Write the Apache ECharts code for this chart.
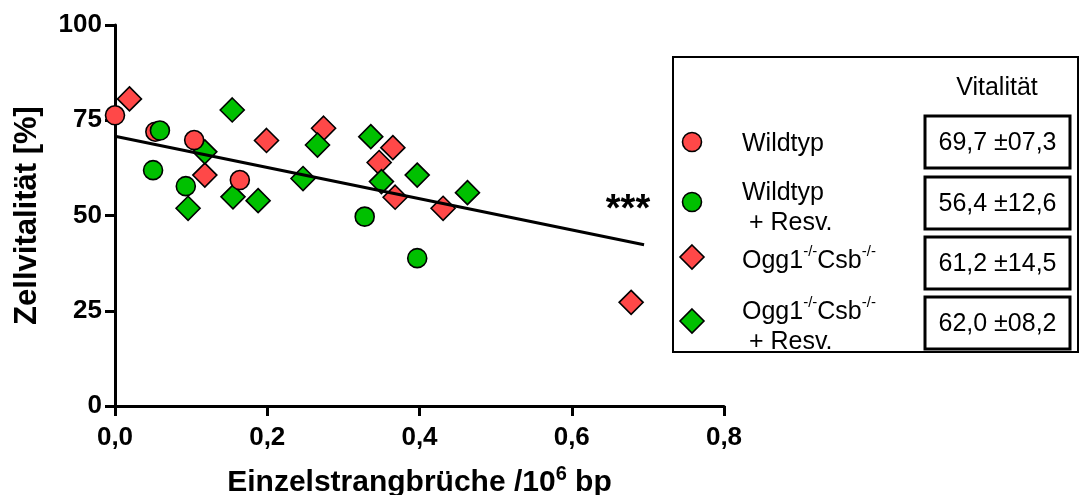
<!DOCTYPE html>
<html>
<head>
<meta charset="utf-8">
<script src="https://cdn.jsdelivr.net/npm/echarts@6/dist/echarts.min.js"></script>
<style>
  html, body { margin: 0; padding: 0; background: #ffffff; }
  #chart { width: 1083px; height: 495px; }
</style>
</head>
<body>
<div id="chart"></div>
<script>
// Einzelstrangbrüche (per 10^6 bp) vs. Zellvitalität (%) for each group
const wildtypX = [0.000, 0.053, 0.104, 0.164];
const wildtypY = [76.3, 72.0, 69.8, 59.3];

const wildtypResvX = [0.059, 0.050, 0.093, 0.328, 0.397];
const wildtypResvY = [72.3, 61.9, 57.7, 49.7, 38.8];

const oggCsbX = [0.019, 0.118, 0.199, 0.274, 0.347, 0.365, 0.368, 0.431, 0.678];
const oggCsbY = [80.6, 60.6, 69.7, 72.9, 63.9, 67.8, 54.8, 51.9, 27.2];

const oggCsbResvX = [0.154, 0.118, 0.155, 0.188, 0.096, 0.266, 0.336, 0.397, 0.247, 0.350, 0.463];
const oggCsbResvY = [77.7, 66.7, 54.9, 53.9, 51.9, 68.5, 70.7, 60.6, 59.7, 58.9, 56.0];

// linear regression over all groups
const trendX = [0.0, 0.695];
const trendY = [70.8, 42.3];

// Vitalität: mean ± SD per group
const vitalMean = ['69,7', '56,4', '61,2', '62,0'];
const vitalSd = ['07,3', '12,6', '14,5', '08,2'];

const xTicks = [0, 0.2, 0.4, 0.6, 0.8];
const yTicks = [0, 25, 50, 75, 100];

const RED = '#ff4848';
const GREEN = '#00c000';
const FONT = '"Liberation Sans", Arial, Helvetica, sans-serif';

const zip = (xs, ys) => xs.map((x, i) => [x, ys[i]]);

const chart = echarts.init(document.getElementById('chart'), null, { renderer: 'canvas' });

function scatter(name, xs, ys, symbol, color, size) {
  return {
    name, type: 'scatter', data: zip(xs, ys), symbol, symbolSize: size,
    itemStyle: { color, borderColor: '#000', borderWidth: 1.6, opacity: 1 },
    emphasis: { disabled: true }, z: 3
  };
}

// Legend panel with group markers and mean ± SD boxes
const legendItems = [
  { symbol: 'circle', color: RED, markerY: 142, text: '{t|Wildtyp}', textY: 142, boxTop: 116 },
  { symbol: 'circle', color: GREEN, markerY: 202, text: '{t|Wildtyp}\n{t| + Resv.}', textY: 206, boxTop: 177 },
  { symbol: 'diamond', color: RED, markerY: 257, text: '{t|Ogg1}{s|-/-}{t|Csb}{s|-/-}', textY: 259, boxTop: 237 },
  { symbol: 'diamond', color: GREEN, markerY: 321, text: '{t|Ogg1}{s|-/-}{t|Csb}{s|-/-}\n{t| + Resv.}', textY: 325, boxTop: 297 }
];
const richLegend = {
  t: { fontFamily: FONT, fontSize: 25, color: '#000', lineHeight: 30, verticalAlign: 'bottom' },
  s: { fontFamily: FONT, fontSize: 15, color: '#000', lineHeight: 15, verticalAlign: 'top' }
};

const graphics = [
  { type: 'rect', shape: { x: 673, y: 57, width: 405, height: 295 },
    style: { fill: '#fff', stroke: '#000', lineWidth: 2 }, z: 10 },
  { type: 'text', x: 997, y: 88, z: 11,
    style: { text: 'Vitalität', fontFamily: FONT, fontSize: 25, fill: '#000', align: 'center', verticalAlign: 'middle' } },
  { type: 'text', x: 628, y: 211, z: 11,
    style: { text: '***', fontFamily: FONT, fontSize: 38, fontWeight: 'bold', fill: '#000', align: 'center', verticalAlign: 'middle' } }
];

legendItems.forEach((it, i) => {
  if (it.symbol === 'circle') {
    graphics.push({ type: 'circle', shape: { cx: 692, cy: it.markerY, r: 9.5 },
      style: { fill: it.color, stroke: '#000', lineWidth: 1.6 }, z: 11 });
  } else {
    graphics.push({ type: 'polygon', shape: { points: [[692, it.markerY - 12], [704, it.markerY], [692, it.markerY + 12], [680, it.markerY]] },
      style: { fill: it.color, stroke: '#000', lineWidth: 1.6 }, z: 11 });
  }
  graphics.push({ type: 'text', x: 742, y: it.textY, z: 11,
    style: { text: it.text, rich: richLegend, align: 'left', verticalAlign: 'middle' } });
  graphics.push({ type: 'rect', shape: { x: 925, y: it.boxTop, width: 145, height: 52 },
    style: { fill: '#fff', stroke: '#000', lineWidth: 3 }, z: 11 });
  graphics.push({ type: 'text', x: 997.5, y: it.boxTop + 27, z: 12,
    style: { text: vitalMean[i] + ' \u00b1' + vitalSd[i], fontFamily: FONT, fontSize: 25, fill: '#000',
      align: 'center', verticalAlign: 'middle' } });
});

const option = {
  backgroundColor: '#ffffff',
  animation: false,
  grid: { left: 115, right: 359, top: 25, bottom: 89, containLabel: false, outerBoundsMode: 'none' },
  xAxis: {
    type: 'value', min: xTicks[0], max: xTicks[xTicks.length - 1], interval: 0.2,
    name: '{b|Einzelstrangbrüche /10}{s|6}{b| bp}',
    nameLocation: 'middle', nameGap: 58,
    nameTextStyle: {
      rich: {
        b: { fontFamily: FONT, fontSize: 30, fontWeight: 'bold', color: '#000', lineHeight: 34, verticalAlign: 'bottom' },
        s: { fontFamily: FONT, fontSize: 20, fontWeight: 'bold', color: '#000', lineHeight: 20, verticalAlign: 'top' }
      }
    },
    axisLine: { show: true, onZero: false, lineStyle: { color: '#000', width: 3 } },
    axisTick: { show: true, inside: false, length: 10, lineStyle: { color: '#000', width: 3 } },
    axisLabel: {
      fontFamily: FONT, fontSize: 26, fontWeight: 'bold', color: '#000', margin: 19,
      formatter: v => v.toFixed(1).replace('.', ',')
    },
    splitLine: { show: false }
  },
  yAxis: {
    type: 'value', min: yTicks[0], max: yTicks[yTicks.length - 1], interval: 25,
    name: 'Zellvitalität [%]', nameLocation: 'middle', nameGap: 72, nameRotate: 90,
    nameTextStyle: { fontFamily: FONT, fontSize: 31, fontWeight: 'bold', color: '#000' },
    axisLine: { show: true, onZero: false, lineStyle: { color: '#000', width: 3 } },
    axisTick: { show: true, inside: false, length: 10, lineStyle: { color: '#000', width: 3 } },
    axisLabel: { fontFamily: FONT, fontSize: 26, fontWeight: 'bold', color: '#000', margin: 13 },
    splitLine: { show: false }
  },
  series: [
    scatter('Ogg1-/-Csb-/-', oggCsbX, oggCsbY, 'diamond', RED, 24),
    scatter('Ogg1-/-Csb-/- + Resv.', oggCsbResvX, oggCsbResvY, 'diamond', GREEN, 24),
    scatter('Wildtyp', wildtypX, wildtypY, 'circle', RED, 19),
    scatter('Wildtyp + Resv.', wildtypResvX, wildtypResvY, 'circle', GREEN, 19),
    {
      name: 'Regression', type: 'line', data: zip(trendX, trendY), symbol: 'none',
      lineStyle: { color: '#000', width: 3 }, emphasis: { disabled: true }, z: 4
    }
  ],
  graphic: graphics
};

chart.setOption(option);
</script>
</body>
</html>
